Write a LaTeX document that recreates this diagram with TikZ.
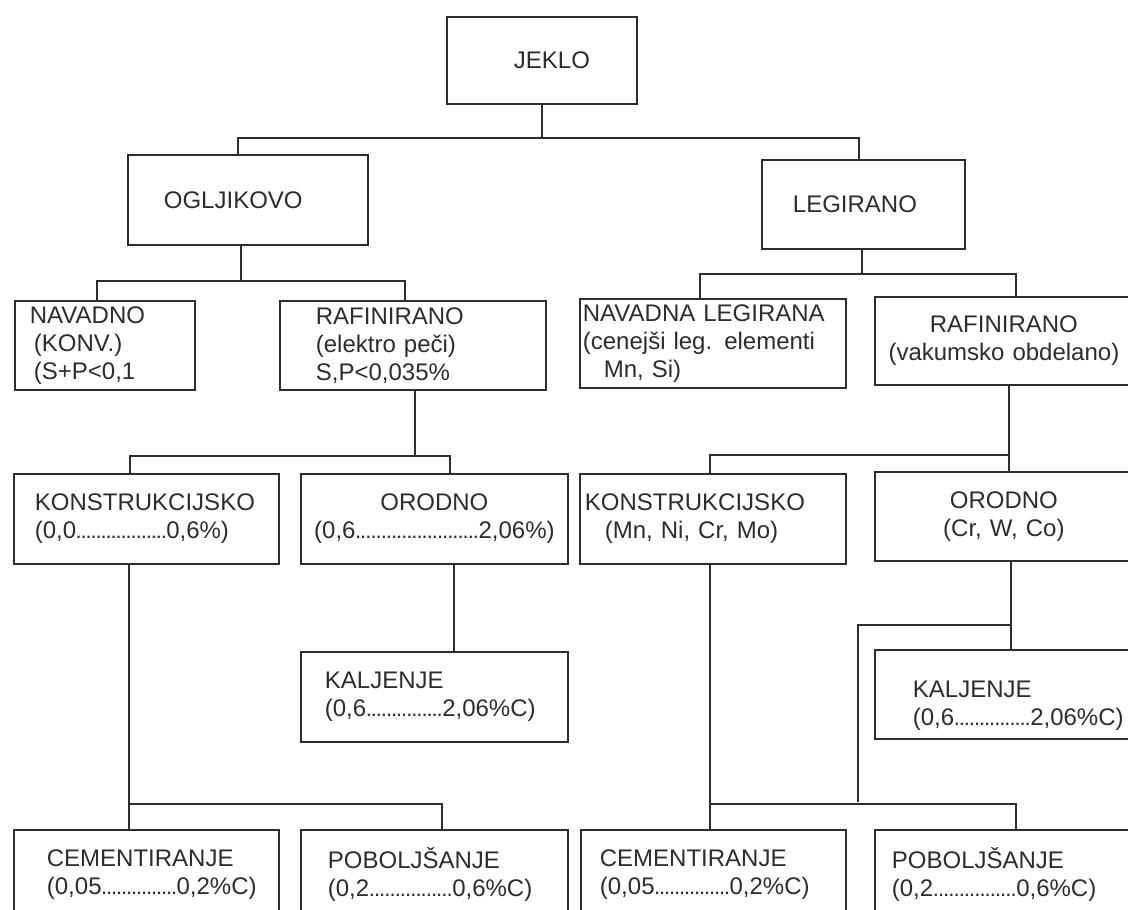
\documentclass[tikz,border=0pt]{standalone}
\usepackage{fontspec}
\setmainfont{Liberation Sans}
\usepackage{xcolor}
\usepackage{tikz}
\definecolor{linegray}{RGB}{45, 45, 45}
\newcommand{\dotrun}[1]{\hbox to #1{\xleaders\hbox to 5pt{\hss\fontsize{22}{22}\selectfont.\hss}\hfil}}

\begin{document}
\begin{tikzpicture}[x=1pt, y=-1pt,
    box/.style={draw=linegray, line width=1.8pt, anchor=north west, align=left,
                inner sep=0pt, minimum height=90pt, text=linegray,
                font=\fontsize{24}{28}\selectfont},
    link/.style={draw=linegray, line width=1.8pt},
]
    \useasboundingbox (0,0) rectangle (1128,910);
    \clip (0,0) rectangle (1128,910);
    \fill[white] (0,0) rectangle (1128,910);

    \node[box, minimum width=190pt, minimum height=87pt, text width=56pt] (jeklo) at (446,16) {JEKLO};
    \node[box, minimum width=240pt, text width=168pt] (ogljikovo) at (127,154) {OGLJIKOVO};
    \node[box, minimum width=203pt, minimum height=89pt, text width=141pt] (legirano) at (761,159) {LEGIRANO};

    \node[box, minimum width=180pt, minimum height=89pt, text width=150pt] (navadno) at (14,300)
        {NAVADNO\\\hspace*{4pt}(KONV.)\\\hspace*{4pt}(S+P<0,1};
    \node[box, minimum width=266pt, minimum height=89pt, text width=194pt] (rafin-l) at (279,300)
        {RAFINIRANO\\(elektro peči)\\S,P<0,035\%};
    \node[box, minimum width=266pt, minimum height=89pt, text width=260pt] (navleg) at (579,298)
        {NAVADNA LEGIRANA\\(cenejši leg. elementi\\\hspace*{21pt}Mn, Si)};
    \node[box, align=center, minimum width=258pt, minimum height=88pt, text width=250pt] (rafin-r) at (874,296)
        {RAFINIRANO\\(vakumsko obdelano)};

    \node[box, minimum width=265pt, text width=223pt] (konstr-l) at (13,473)
        {KONSTRUKCIJSKO\\(0,0\dotrun{90pt}0,6\%)};
    \node[box, align=center, minimum width=267pt, text width=250pt] (orodno-l) at (300,473)
        {ORODNO\\(0,6\dotrun{123pt}2,06\%)};
    \node[box, minimum width=266pt, text width=256pt] (konstr-r) at (579,473)
        {KONSTRUKCIJSKO\\\hspace*{20pt}(Mn, Ni, Cr, Mo)};
    \node[box, align=center, minimum width=258pt, minimum height=89pt, text width=250pt] (orodno-r) at (874,471)
        {ORODNO\\(Cr, W, Co)};

    \node[box, minimum width=267pt, text width=219pt] (kalj-l) at (300,651)
        {KALJENJE\\(0,6\dotrun{76pt}2,06\%C)};
    \node[box, minimum width=258pt, minimum height=89pt, text width=182pt, text height=40pt] (kalj-r) at (874,649)
        {KALJENJE\\(0,6\dotrun{76pt}2,06\%C)};

    \node[box, minimum width=265pt, text width=199pt] (cement-l) at (13,829)
        {CEMENTIRANJE\\(0,05\dotrun{75pt}0,2\%C)};
    \node[box, minimum width=267pt, text width=213pt] (pobolj-l) at (300,829)
        {POBOLJŠANJE\\(0,2\dotrun{83pt}0,6\%C)};
    \node[box, minimum width=265pt, text width=227pt] (cement-r) at (580,829)
        {CEMENTIRANJE\\(0,05\dotrun{75pt}0,2\%C)};
    \node[box, minimum width=258pt, text width=224pt] (pobolj-r) at (874,829)
        {POBOLJŠANJE\\(0,2\dotrun{83pt}0,6\%C)};

    \coordinate (junction) at (858,802);

    \draw[link] (jeklo.south) -- ++(0,33) -| ([xshift=-10pt]ogljikovo.north);
    \draw[link] (jeklo.south) -- ++(0,33) -| ([xshift=-4.5pt]legirano.north);
    \draw[link] ([xshift=-7pt]ogljikovo.south) -- ++(0,35) -| ([xshift=-8pt]navadno.north);
    \draw[link] ([xshift=-7pt]ogljikovo.south) -- ++(0,35) -| ([xshift=-8pt]rafin-l.north);
    \draw[link] ([xshift=-1.5pt]legirano.south) -- ++(0,24) -| ([xshift=-13pt]navleg.north);
    \draw[link] ([xshift=-1.5pt]legirano.south) -- ++(0,24) -| ([xshift=12pt]rafin-r.north);
    \draw[link] ([xshift=2pt]rafin-l.south) -- ++(0,65) -| ([xshift=-16.5pt]konstr-l.north);
    \draw[link] ([xshift=2pt]rafin-l.south) -- ++(0,65) -| ([xshift=15.5pt]orodno-l.north);
    \draw[link] ([xshift=5pt]rafin-r.south) -- ++(0,69) -| ([xshift=-3pt]konstr-r.north);
    \draw[link] ([xshift=5pt]rafin-r.south) -- ++(0,69) -| ([xshift=5pt]orodno-r.north);
    \draw[link] ([xshift=19.5pt]orodno-l.south) -- ([xshift=19.5pt]kalj-l.north);
    \draw[link] ([xshift=-17.5pt]konstr-l.south) -- ++(0,239) -| ([xshift=-17.5pt]cement-l.north);
    \draw[link] ([xshift=-17.5pt]konstr-l.south) -- ++(0,239) -| ([xshift=7.5pt]pobolj-l.north);
    \draw[link] ([xshift=-3pt]konstr-r.south) -- ++(0,239) -| ([xshift=-3.5pt]cement-r.north);
    \draw[link] ([xshift=-3pt]konstr-r.south) -- ++(0,239) -| ([xshift=12pt]pobolj-r.north);
    \draw[link] ([xshift=7pt]orodno-r.south) -- ([xshift=7pt]kalj-r.north);
    \draw[link] ([xshift=7pt]orodno-r.south) -- ++(0,63) -| (junction);
\end{tikzpicture}
\end{document}
